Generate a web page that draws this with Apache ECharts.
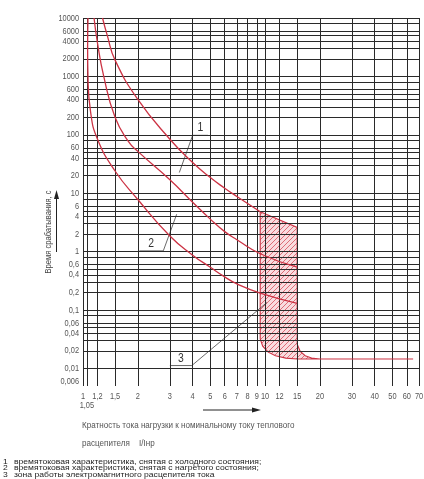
<!DOCTYPE html>
<html><head><meta charset="utf-8">
<script src="https://cdn.jsdelivr.net/npm/echarts@6.0.0/dist/echarts.min.js"></script>
<style>html,body{margin:0;padding:0;background:#fff;} #c{width:424px;height:479px;}</style>
</head><body><div id="c"></div>
<script>
// ---- data ----
const xGridValues = [1,1.05,1.2,1.5,2,3,4,5,6,7,8,9,10,12,15,20,30,40,50,60,70];
const xTickLabels = ['1','1,05','1,2','1,5','2','3','4','5','6','7','8','9','10','12','15','20','30','40','50','60','70'];
const yGridValues = [0.005,0.006,0.008,0.01,0.02,0.03,0.04,0.05,0.06,0.08,0.1,0.2,0.3,0.4,0.5,0.6,0.8,1,2,3,4,5,6,8,10,20,30,40,50,60,80,100,200,300,400,500,600,800,1000,2000,3000,4000,5000,6000,8000,10000];
const yTickValues = [10000,6000,4000,2000,1000,600,400,200,100,60,40,20,10,6,4,2,1,0.6,0.4,0.2,0.1,0.06,0.04,0.02,0.01,0.006];
const yTickLabels = ['10000','6000','4000','2000','1000','600','400','200','100','60','40','20','10','6','4','2','1','0,6','0,4','0,2','0,1','0,06','0,04','0,02','0,01','0,006'];

const curveUpper = [[1.28,10000],[1.36,5000],[1.5,1900],[2,404],[3,84],[4,33.5],[5,18.5],[6,12.2],[7,8.8],[9.4,4.8]];
const curveMiddle = [[1.15,10000],[1.2,3800],[1.3,1000],[1.5,200],[1.77,78],[2,52],[3,17],[4,7],[5,3.6],[6,2.2],[7,1.6],[9.4,0.92],[15,0.54]];
const curveLower = [[1.065,10000],[1.06,3000],[1.065,1000],[1.1,250],[1.2,85],[1.5,24],[2,7.8],[3,1.85],[4,0.87],[5,0.54],[6,0.37],[7,0.28],[9.4,0.195],[15,0.13]];
const zoneOutline = [[9.4,4.8],[15,2.6],[15,0.026],[15.6,0.0195],[16.6,0.0165],[18,0.0151],[20,0.0145],[15,0.0145],[13,0.015],[11.4,0.0165],[10.4,0.019],[9.7,0.024],[9.4,0.032]];
const zoneTail = [[20,0.0145],[65,0.0145]];

const leader1 = [[4.86,98],[4,98],[3.38,22.6]];
const leader2 = [[2.04,1.03],[2.76,1.03],[3.27,4.37]];
const leader3 = [[3,0.0112],[3.96,0.0112],[10.25,0.135]];
const annotationAnchors = [[4.41,98],[2.37,1.03],[3.45,0.0112]];
const annotationLabels = ['1','2','3'];

const legendNumbers = ['1','2','3'];
const legendTexts = [
  'времятоковая характеристика, снятая с холодного состояния;',
  'времятоковая характеристика, снятая с нагретого состояния;',
  'зона работы электромагнитного расцепителя тока'
];

// ---- styles ----
const FONT = '"Liberation Sans",Arial,sans-serif';
const RED = '#cc3344';
const SQ = 0.78; // horizontal squeeze to imitate the narrow drafting font

const hatch = document.createElement('canvas');
hatch.width = 5; hatch.height = 5;
(function(){
  const g = hatch.getContext('2d');
  g.fillStyle = '#f8dcdf'; g.fillRect(0,0,5,5);
  g.strokeStyle = '#d6505c'; g.lineWidth = 0.8;
  g.beginPath();
  g.moveTo(0,5); g.lineTo(5,0);
  g.moveTo(-1,1); g.lineTo(1,-1);
  g.moveTo(4,6); g.lineTo(6,4);
  g.stroke();
})();

const gridLines = [];
xGridValues.forEach(v=>gridLines.push({xAxis:v}));
yGridValues.forEach(v=>gridLines.push({yAxis:v}));

function leaderSeries(d){
  return {type:'line', data:d, showSymbol:false, symbol:'none', silent:true, z:4,
    lineStyle:{color:'#444', width:0.8}};
}
function curveSeries(d){
  return {type:'line', data:d, showSymbol:false, symbol:'none', silent:true, smooth:0.5, z:5,
    lineStyle:{color:RED, width:1.3}};
}
function txt(x, y, text, size, color, align, sq){
  return {type:'text', x:x, y:y, scaleX:sq,
    style:{text:text, font:size+'px '+FONT, fill:color, align:align, verticalAlign:'middle', textAlign:align, textVerticalAlign:'middle'}};
}

const chart = echarts.init(document.getElementById('c'), null, {renderer:'canvas'});
chart.setOption({
  animation:false,
  backgroundColor:'#fff',
  grid:{left:83, right:5, top:18, bottom:93},
  xAxis:{type:'log', logBase:10, min:1, max:70, axisLine:{show:false}, axisTick:{show:false}, axisLabel:{show:false}, splitLine:{show:false}, minorSplitLine:{show:false}},
  yAxis:{type:'log', logBase:10, min:0.005, max:10000, axisLine:{show:false}, axisTick:{show:false}, axisLabel:{show:false}, splitLine:{show:false}, minorSplitLine:{show:false}},
  series:[
    {type:'line', data:[[1,0.005]], showSymbol:false, symbol:'none', silent:true, z:1,
     lineStyle:{opacity:0},
     markLine:{silent:true, symbol:['none','none'], animation:false, label:{show:false},
       lineStyle:{color:'#2a2a2a', width:1, type:'solid'},
       emphasis:{disabled:true},
       data:gridLines}},
    {type:'custom', data:[zoneOutline[0]], silent:true, z:3,
     renderItem:function(params, api){
       const pts = zoneOutline.map(p=>api.coord(p));
       return {type:'polygon', shape:{points:pts},
         style:{fill:{image:hatch, repeat:'repeat'}, stroke:RED, lineWidth:1.1}};
     }},
    curveSeries(curveUpper),
    curveSeries(curveMiddle),
    curveSeries(curveLower),
    {type:'line', data:zoneTail, showSymbol:false, symbol:'none', silent:true, z:5, lineStyle:{color:RED, width:1}},
    leaderSeries(leader1),
    leaderSeries(leader2),
    leaderSeries(leader3),
    // annotation numbers 1, 2, 3
    {type:'custom', data:annotationAnchors, silent:true, z:6, clip:false,
     renderItem:function(params, api){
       const p = api.coord([api.value(0), api.value(1)]);
       return {type:'text', x:p[0], y:p[1]-1, scaleX:0.8,
         style:{text:annotationLabels[params.dataIndex], font:'13px '+FONT, fill:'#333',
                align:'center', verticalAlign:'bottom', textAlign:'center', textVerticalAlign:'bottom'}};
     }},
    // y tick labels
    {type:'custom', data:yTickValues.map(v=>[1,v]), silent:true, z:6, clip:false,
     renderItem:function(params, api){
       const p = api.coord([api.value(0), api.value(1)]);
       return txt(p[0]-4, p[1], yTickLabels[params.dataIndex], 9.5, '#555', 'right', SQ);
     }},
    // x tick labels
    {type:'custom', data:xGridValues.map(v=>[v,0.005]), silent:true, z:6, clip:false,
     renderItem:function(params, api){
       const v = api.value(0);
       const p = api.coord([v, api.value(1)]);
       return txt(p[0], p[1] + (v===1.05 ? 19 : 10), xTickLabels[params.dataIndex], 9.5, '#555', 'center', SQ);
     }}
  ],
  graphic:[
    {type:'text', x:48, y:232, rotation:Math.PI/2, scaleX:0.8,
     style:{text:'Время срабатывания, с', font:'9.5px '+FONT, fill:'#444', align:'center', verticalAlign:'middle', textAlign:'center', textVerticalAlign:'middle'}},
    {type:'line', shape:{x1:56.5, y1:252, x2:56.5, y2:198}, style:{stroke:'#222', lineWidth:1}},
    {type:'polygon', shape:{points:[[56.5,190],[54,199],[59,199]]}, style:{fill:'#222'}},
    {type:'line', shape:{x1:203, y1:410, x2:253, y2:410}, style:{stroke:'#222', lineWidth:1}},
    {type:'polygon', shape:{points:[[261,410],[252,407.5],[252,412.5]]}, style:{fill:'#222'}},
    txt(82, 425, 'Кратность тока нагрузки к номинальному току теплового', 9.5, '#555', 'left', 0.85),
    txt(82, 443, 'расцепителя', 9.5, '#555', 'left', 0.85),
    txt(139, 443, 'I/Iнр', 9.5, '#555', 'left', 0.85),
    txt(3, 461.7, legendNumbers[0], 7.4, '#222', 'left', 1.16),
    txt(3, 468.3, legendNumbers[1], 7.4, '#222', 'left', 1.16),
    txt(3, 475, legendNumbers[2], 7.4, '#222', 'left', 1.16),
    txt(14, 461.7, legendTexts[0], 7.4, '#222', 'left', 1.16),
    txt(14, 468.3, legendTexts[1], 7.4, '#222', 'left', 1.16),
    txt(14, 475, legendTexts[2], 7.4, '#222', 'left', 1.16)
  ]
});
</script>
</body></html>
